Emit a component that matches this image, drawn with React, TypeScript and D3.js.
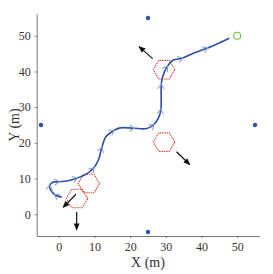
import React, { useEffect, useRef } from "react";
import * as d3 from "d3";

// robot path (x, y in metres)
const pathX = [0.8, -1.0, -2.2, -2.6, -2.0, -0.1, 2.2, 5.0, 7.8, 9.7, 11.1, 12.0, 13.2, 15.3, 17.2, 20.9, 24.6, 26.5, 27.9, 28.6, 28.7, 28.7, 29.1, 30.3, 32.1, 34.5, 37.7, 41.5, 45.2, 47.8];
const pathY = [4.8, 5.4, 6.6, 7.9, 8.8, 9.1, 9.3, 10.1, 11.3, 12.9, 15.2, 18.5, 21.7, 23.4, 24.2, 24.1, 24.0, 25.0, 26.9, 29.2, 32.9, 36.2, 38.5, 41.3, 43.2, 43.7, 45.1, 46.5, 48.1, 49.3];

// anchors (blue dots)
const anchorX = [25, -5, 55, 25];
const anchorY = [55, 25, 25, -5];

// goal
const goal: [number, number] = [50, 50];

// obstacles (hexagon centres, radius)
const obsX = [29.5, 29.5, 8.4, 5.1];
const obsY = [40.5, 20.2, 8.6, 4.4];
const obsR = 3;

// obstacle motion arrows: from -> to
const arrFromX = [26.3, 33.0, 4.8, 5.0];
const arrFromY = [43.6, 17.5, 5.6, 0.6];
const arrToX = [22.6, 36.6, 1.3, 5.0];
const arrToY = [46.9, 14.0, 2.0, -4.2];

const xTicks = [0, 10, 20, 30, 40, 50];
const yTicks = [0, 10, 20, 30, 40, 50];

function drawChart(ref: React.MutableRefObject<SVGSVGElement | null>) {
  const svg = d3.select(ref.current);
  svg.selectAll("*").remove();

  const left = 36.7, right = 259.3, top = 14, bottom = 236;
  const x = d3.scaleLinear().domain([-6.2, 56.2]).range([left, right]);
  const y = d3.scaleLinear().domain([-6.1, 56.1]).range([bottom, top]);

  const defs = svg.append("defs");
  defs
    .append("marker")
    .attr("id", "ah")
    .attr("viewBox", "0 0 10 10")
    .attr("refX", 8)
    .attr("refY", 5)
    .attr("markerWidth", 6)
    .attr("markerHeight", 6)
    .attr("orient", "auto")
    .append("path")
    .attr("d", "M0,1 L10,5 L0,9 Z")
    .attr("fill", "#111");

  const font = "'Liberation Serif', 'Times New Roman', serif";

  // axes
  const xAxis = svg
    .append("g")
    .attr("transform", `translate(0,${bottom})`)
    .call(d3.axisBottom(x).tickValues(xTicks).tickSize(2).tickSizeOuter(0).tickPadding(4));
  const yAxis = svg
    .append("g")
    .attr("transform", `translate(${left},0)`)
    .call(d3.axisLeft(y).tickValues(yTicks).tickSize(2).tickSizeOuter(0).tickPadding(4));
  [xAxis, yAxis].forEach((g) => {
    g.select(".domain").attr("stroke", "#555").attr("stroke-width", 0.8);
    g.selectAll(".tick line").attr("stroke", "#555").attr("stroke-width", 0.8);
    g.selectAll(".tick text")
      .attr("fill", "#333")
      .style("font-family", font)
      .style("font-size", "12px");
  });

  svg
    .append("text")
    .attr("x", (left + right) / 2)
    .attr("y", 267)
    .attr("text-anchor", "middle")
    .attr("fill", "#333")
    .style("font-family", font)
    .style("font-size", "14px")
    .text("X (m)");
  svg
    .append("text")
    .attr("transform", `translate(19,${(top + bottom) / 2}) rotate(-90)`)
    .attr("text-anchor", "middle")
    .attr("fill", "#333")
    .style("font-family", font)
    .style("font-size", "14px")
    .text("Y (m)");

  // obstacles
  const hex = (cx: number, cy: number) =>
    d3.range(6).map((i) => {
      const a = (Math.PI / 3) * i;
      return [x(cx + obsR * Math.cos(a)), y(cy + obsR * Math.sin(a))] as [number, number];
    });
  obsX.forEach((cx, i) => {
    svg
      .append("polygon")
      .attr("points", hex(cx, obsY[i]).map((p) => p.join(",")).join(" "))
      .attr("fill", "none")
      .attr("stroke", "#e23427")
      .attr("stroke-width", 1.1)
      .attr("stroke-dasharray", "1.4,1");
  });

  // obstacle arrows
  arrFromX.forEach((fx, i) => {
    svg
      .append("line")
      .attr("x1", x(fx))
      .attr("y1", y(arrFromY[i]))
      .attr("x2", x(arrToX[i]))
      .attr("y2", y(arrToY[i]))
      .attr("stroke", "#111")
      .attr("stroke-width", 1.2)
      .attr("marker-end", "url(#ah)");
  });

  // path
  const pts: [number, number][] = pathX.map((px, i) => [px, pathY[i]]);
  const line = d3
    .line<[number, number]>()
    .x((d) => x(d[0]))
    .y((d) => y(d[1]))
    .curve(d3.curveCatmullRom);
  svg
    .append("path")
    .datum(pts)
    .attr("d", line)
    .attr("fill", "none")
    .attr("stroke", "#2b4fa6")
    .attr("stroke-width", 1.6);

  // direction chevrons
  for (let i = 1; i < pts.length - 1; i += 2) {
    const a = pts[i - 1], b = pts[i + 1];
    const ang = (Math.atan2(y(b[1]) - y(a[1]), x(b[0]) - x(a[0])) * 180) / Math.PI;
    svg
      .append("path")
      .attr("d", "M-4,-3.2 L1,0 L-4,3.2")
      .attr("transform", `translate(${x(pts[i][0])},${y(pts[i][1])}) rotate(${ang})`)
      .attr("fill", "none")
      .attr("stroke", "#859fd4")
      .attr("stroke-width", 1);
  }

  // anchors
  anchorX.forEach((ax, i) => {
    svg
      .append("circle")
      .attr("cx", x(ax))
      .attr("cy", y(anchorY[i]))
      .attr("r", 2.2)
      .attr("fill", "#2a52b3");
  });

  // goal
  svg
    .append("circle")
    .attr("cx", x(goal[0]))
    .attr("cy", y(goal[1]))
    .attr("r", 3.5)
    .attr("fill", "none")
    .attr("stroke", "#6cbf3f")
    .attr("stroke-width", 1.1);
}

const App = () => {
  const ref = useRef<SVGSVGElement | null>(null);
  useEffect(() => {
    drawChart(ref);
  }, []);
  return (
    <svg
      ref={ref}
      width={273}
      height={274}
      style={{ position: "absolute", left: 0, top: 0, background: "#fff" }}
    />
  );
};

export default App;
